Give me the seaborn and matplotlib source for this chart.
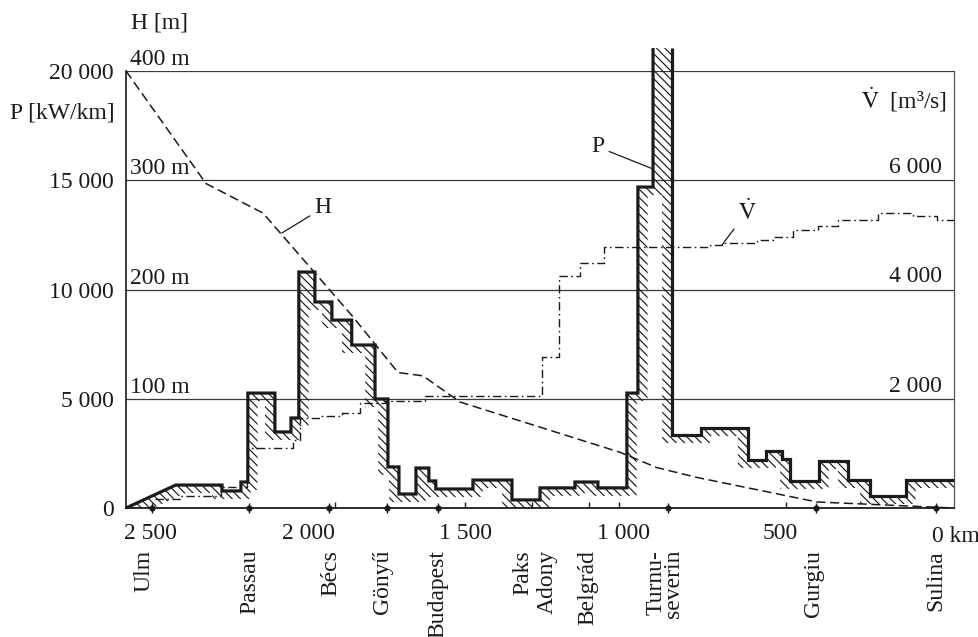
import numpy as np
import pandas as pd
import matplotlib
matplotlib.use("Agg")
import matplotlib.pyplot as plt
import matplotlib.transforms as mtransforms
import seaborn as sns

# ---------------- data ----------------
# specific power P [kW/km] along the Danube (river km, decreasing downstream)
ramp_km = [2579, 2421]
ramp_p = [0, 1050]
p_edges = [2421, 2274, 2214, 2192, 2106, 2055, 2030, 1979, 1925, 1862, 1788,
           1747, 1712, 1658, 1617, 1595, 1477, 1353, 1264, 1153, 1080, 988,
           953, 905, 845, 753, 604, 546, 496, 470, 378, 286, 216, 102, -51]
p_vals = [1050, 780, 1190, 5260, 3480, 4120, 10800, 9430, 8600, 7460, 4990,
          1880, 640, 1830, 1240, 870, 1280, 370, 920, 1190, 920, 5260,
          14690, 21050, 3340, 3660, 2200, 2610, 2240, 1240, 2150, 1280, 550, 1280]

# height above sea level H [m]
h_km = [2579, 2325, 2144, 1858, 1715, 1636, 1518, 1010, 893, 766, 384, -51]
h_m = [400, 297, 270, 175, 124, 121, 97, 51, 37, 28, 5.5, 0]

# discharge V [m3/s] (step curve)
v_edges = [2487, 2408, 2278, 2195, 2049, 2027, 1963, 1893, 1836, 1757, 1630,
           1258, 1204, 1137, 1061, 724, 686, 575, 524, 461, 381, 318, 191, 79, 3, -51]
v_vals = [165, 220, 384, 1098, 1245, 1648, 1684, 1739, 1922, 1959, 2050,
          2764, 4247, 4485, 4778, 4815, 4851, 4906, 4961, 5089, 5162, 5272,
          5400, 5345, 5272]

km_ticks = [2500, 2000, 1500, 1000, 500]
km_tick_labels = ["2 500", "2 000", "1 500", "1 000", "500"]
minor_km = [1916, 1503, 1290, 1109, 1013, 483]
p_ticks = [0, 5000, 10000, 15000, 20000]
p_tick_labels = ["0", "5 000", "10 000", "15 000", "20 000"]
h_ticks = [100, 200, 300, 400]
h_tick_labels = ["100 m", "200 m", "300 m", "400 m"]
v_ticks = [2000, 4000, 6000]
v_tick_labels = ["2 000", "4 000", "6 000"]
dot_km = [2497, 2189, 1935, 1750, 1588, 858, 388, 6]
city_names = ["Ulm", "Passau", "Bécs", "Gönyű", "Budapest", "Paks", "Adony",
              "Belgrád", "Turnu-\nseverin", "Gurgiu", "Sulina"]
city_km = [2522, 2186, 1928, 1763, 1588, 1318, 1242, 1112, 867, 394, 6]

# ---------------- style ----------------
sns.set_theme(style="white")
plt.rcParams["font.family"] = ["Liberation Serif", "DejaVu Serif"]
plt.rcParams["mathtext.fontset"] = "stix"
plt.rcParams["hatch.linewidth"] = 0.85
INK = "#1a1a1a"
FS = 17

fig = plt.figure(figsize=(9.79, 6.37), dpi=100)
W, Hh = 979, 637
L, R, B, T = 126 / W, 954 / W, (Hh - 508) / Hh, (Hh - 71) / Hh
ax = fig.add_axes([L, B, R - L, T - B])
ax.set_xlim(ramp_km[0], p_edges[-1])
P_TOP = 20000
ax.set_ylim(0, P_TOP)
axh = ax.twinx()
axh.set_ylim(0, P_TOP / 50)
axv = ax.twinx()
axv.set_ylim(0, P_TOP * 0.4)
for a in (axh, axv):
    a.set_axis_off()

# grid lines
for v in p_ticks[1:]:
    ax.axhline(v, color="#3a3a3a", lw=0.9, zorder=1)

ax.spines["top"].set_visible(False)
ax.spines["left"].set_color(INK)
ax.spines["left"].set_linewidth(1.2)
ax.spines["bottom"].set_color(INK)
ax.spines["bottom"].set_linewidth(1.3)
ax.spines["right"].set_color("#555555")
ax.spines["right"].set_linewidth(0.9)

# ---------------- P curve with hatched band ----------------
pe = np.array(p_edges, float)
pv = np.array(p_vals, float)


def p_at(x):
    y = np.empty_like(x)
    ramp = x > ramp_km[1]
    y[ramp] = np.interp(x[ramp], ramp_km[::-1], ramp_p[::-1])
    idx = np.clip(np.searchsorted(-pe, -x[~ramp], side="right") - 1, 0, len(pv) - 1)
    y[~ramp] = pv[idx]
    return y


N = 6000
xg = np.linspace(ramp_km[0], pe[-1], N)
pg = p_at(xg)
dx = abs(xg[1] - xg[0])
k = int(round(31 / dx))
padded = np.pad(pg, k, constant_values=np.inf)
er = np.lib.stride_tricks.sliding_window_view(padded, 2 * k + 1).min(axis=1)
lower = np.clip(er - 366, 0, None)
ax.fill_between(xg, lower, pg, where=pg > lower, facecolor="none",
                edgecolor=INK, hatch="\\\\\\\\", linewidth=0, clip_on=False, zorder=2)

# build outline pieces, leaving the off-scale top open
pieces = []
cur_x = list(ramp_km)
cur_y = list(ramp_p)
for i, v in enumerate(pv):
    if v > P_TOP:
        cur_x.append(pe[i]); cur_y.append(v)
        pieces.append((cur_x, cur_y))
        cur_x, cur_y = [pe[i + 1]], [v]
        continue
    cur_x += [pe[i], pe[i + 1]]
    cur_y += [v, v]
pieces.append((cur_x, cur_y))
for xs, ys in pieces:
    df = pd.DataFrame({"km": xs, "P": ys})
    sns.lineplot(data=df, x="km", y="P", sort=False, estimator=None, ax=ax,
                 color=INK, linewidth=2.3, clip_on=False, zorder=4)
    ln = ax.lines[-1]
    ln.set_solid_joinstyle("miter")
    ln.set_solid_capstyle("butt")

# ---------------- H curve ----------------
sns.lineplot(x=h_km, y=h_m, sort=False, estimator=None, ax=axh, color=INK, linewidth=1.1)
axh.lines[-1].set_linestyle((0, (6, 3)))

# ---------------- V curve ----------------
vx, vy = [], []
for i, v in enumerate(v_vals):
    vx += [v_edges[i], v_edges[i + 1]]
    vy += [v, v]
sns.lineplot(x=vx, y=vy, sort=False, estimator=None, ax=axv, color=INK, linewidth=1.0)
axv.lines[-1].set_linestyle((0, (6, 2.5, 1.2, 2.5)))

# ---------------- axes ticks ----------------
ax.set_yticks(p_ticks, p_tick_labels)
ax.tick_params(axis="y", length=0, pad=9, labelsize=FS, labelcolor=INK)
ax.set_xticks(km_ticks, km_tick_labels)
ax.tick_params(axis="x", which="major", length=0, pad=11, labelsize=FS, labelcolor=INK)
ax.set_xticks(minor_km, minor=True)
ax.tick_params(axis="x", which="minor", bottom=True, direction="in", length=4,
               width=1.0, color=INK)
ax.set_xlabel("")
ax.set_ylabel("")

trans_x = mtransforms.blended_transform_factory(ax.transData, ax.transAxes)
ax.text(19, 0, "0 km", transform=mtransforms.offset_copy(trans_x, fig=fig, y=-28, units="dots"),
        ha="left", va="center", fontsize=FS, color=INK)

# river stations
ax.scatter(dot_km, np.zeros(len(dot_km)), s=20, color=INK, clip_on=False, zorder=6, linewidths=0)
ax.plot(dot_km, np.zeros(len(dot_km)), "|", ms=7, mew=1.0, color=INK, clip_on=False, zorder=6)
ctrans = mtransforms.offset_copy(trans_x, fig=fig, y=-42, units="dots")
for name, km in zip(city_names, city_km):
    ax.text(km, 0, name, transform=ctrans, rotation=90, ha="center", va="top",
            multialignment="right", linespacing=0.8, fontsize=FS, color=INK)

# H labels
htrans = mtransforms.blended_transform_factory(axh.transAxes, axh.transData)
htrans = mtransforms.offset_copy(htrans, fig=fig, y=6, units="dots")
for h, lab in zip(h_ticks, h_tick_labels):
    axh.text(0.005, h, lab, transform=htrans, ha="left", va="baseline", fontsize=FS, color=INK)

# V labels
vtrans = mtransforms.blended_transform_factory(axv.transAxes, axv.transData)
vtrans = mtransforms.offset_copy(vtrans, fig=fig, y=7, units="dots")
for v, lab in zip(v_ticks, v_tick_labels):
    axv.text(0.9855, v, lab, transform=vtrans, ha="right", va="baseline", fontsize=FS, color=INK)

# axis titles
fig.text(131 / W, 1 - 23 / Hh, "H [m]", ha="left", va="center", fontsize=FS, color=INK)
fig.text(115 / W, 1 - 113 / Hh, "P [kW/km]", ha="right", va="center", fontsize=FS, color=INK)
fig.text(947 / W, 1 - 100 / Hh, r"$\dot{\mathrm{V}}$  [m³/s]", ha="right", va="center",
         fontsize=FS, color=INK)

# curve labels with leader lines
lead = dict(arrowstyle="-", lw=0.9, color=INK, shrinkA=1, shrinkB=0)
ax.annotate("P", xy=(905, 15515), xytext=(1080, 16522), ha="center", va="center",
            fontsize=FS, color=INK, arrowprops=lead)
axh.annotate("H", xy=(2084, 251.7), xytext=(1954, 274.6), ha="center", va="center",
             fontsize=FS, color=INK, arrowprops=lead)
axv.annotate(r"$\dot{\mathrm{V}}$", xy=(686, 4815), xytext=(607, 5419), ha="center",
             va="center", fontsize=FS, color=INK, arrowprops=lead)

fig.savefig("out.png", dpi=100, facecolor="white")
